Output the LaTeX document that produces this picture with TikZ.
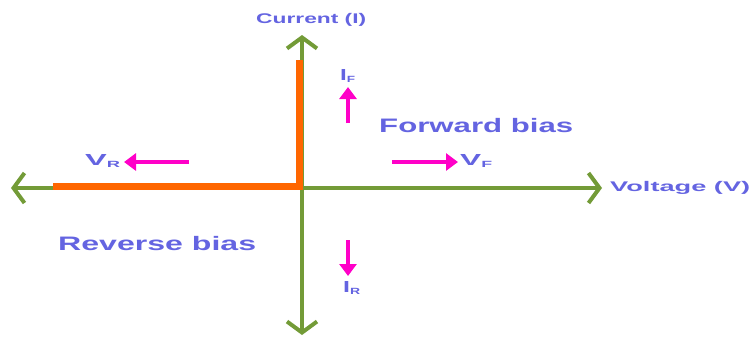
\documentclass[tikz,border=0pt]{standalone}
\usepackage{fontspec}
\setmainfont{Liberation Sans}
\usetikzlibrary{arrows.meta}
\definecolor{axisgreen}{RGB}{115,155,55}
\definecolor{diodeorange}{RGB}{255,102,0}
\definecolor{labelblue}{RGB}{100,100,225}
\definecolor{arrowmag}{RGB}{255,0,200}
\newcommand{\wtext}[2]{\resizebox{#1}{\height}{#2}}
\newcommand{\subl}[2]{#1\raisebox{-1.5pt}{\fontsize{9}{9}\selectfont #2}}
\tikzset{
  axis/.style={draw=axisgreen, line width=4pt, -{Straight Barb[length=11pt,width=30pt,line width=4pt]}},
  curve/.style={draw=diodeorange, line width=7.5pt},
  lbl/.style={text=labelblue, inner sep=0pt, font=\fontsize{14}{16}\selectfont\bfseries},
  biaslbl/.style={text=labelblue, inner sep=0pt, font=\fontsize{19.5}{22}\selectfont\bfseries},
  small/.style={text=labelblue, inner sep=0pt, font=\fontsize{16}{18}\selectfont\bfseries},
  magarrow/.style={draw=arrowmag, line width=4pt, -{Triangle[length=12pt,width=17pt]}}
}
\begin{document}
\begin{tikzpicture}[x=1pt,y=-1pt]
\useasboundingbox (0,0) rectangle (751,340);
% axes
\coordinate (o) at (302,188);
\coordinate (top) at (302,35);
\coordinate (bot) at (302,335);
\coordinate (left) at (11,188);
\coordinate (right) at (602,188);
\draw[axis] (o) -- (top);
\draw[axis] (o) -- (bot);
\draw[axis] (o) -- (left);
\draw[axis] (o) -- (right);
% diode curve
\coordinate (c1) at (53,186.5);
\coordinate (c2) at (299.5,186.5);
\coordinate (c3) at (299.5,60);
\draw[curve, line join=miter] (c1) -- (c2) -- (c3);
% labels
\node[lbl, anchor=west] (cur) at (256,20) {\wtext{110pt}{Current (I)}};
\node[lbl, anchor=west] (volt) at (610,188) {\wtext{140pt}{Voltage (V)}};
\node[biaslbl, anchor=west] (fwd) at (379,126) {\wtext{194pt}{Forward bias}};
\node[biaslbl, anchor=west] (rev) at (58,244) {\wtext{198pt}{Reverse bias}};
% small labels
\node[small, anchor=west] (IF) at (340,76) {\wtext{15pt}{\subl{I}{F}}};
\node[small, anchor=west] (IR) at (343,288) {\wtext{17pt}{\subl{I}{R}}};
\node[small, anchor=west] (VR) at (85,161) {\wtext{35pt}{\subl{V}{R}}};
\node[small, anchor=west] (VF) at (460,161) {\wtext{32pt}{\subl{V}{F}}};
% magenta arrows
\coordinate (ifa) at (348,123);
\coordinate (ifb) at (348,87);
\draw[magarrow] (ifa) -- (ifb);
\coordinate (ira) at (348,240);
\coordinate (irb) at (348,276);
\draw[magarrow] (ira) -- (irb);
\coordinate (vra) at (189,162);
\coordinate (vrb) at (124,162);
\draw[magarrow] (vra) -- (vrb);
\coordinate (vfa) at (392,162);
\coordinate (vfb) at (458,162);
\draw[magarrow] (vfa) -- (vfb);
\end{tikzpicture}
\end{document}
